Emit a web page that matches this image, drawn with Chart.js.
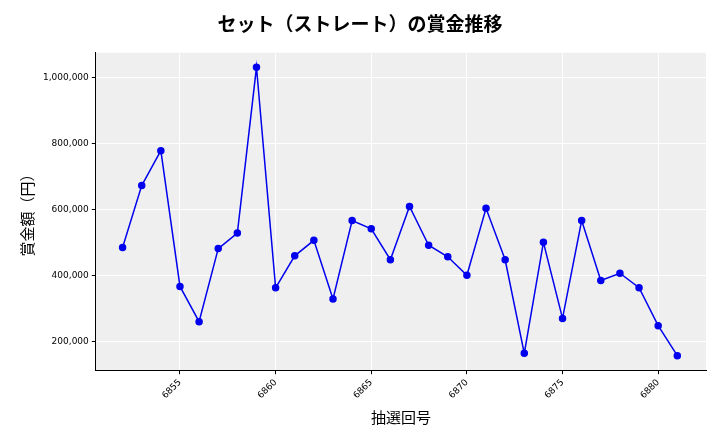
<!DOCTYPE html>
<html><head><meta charset="utf-8">
<script src="https://cdn.jsdelivr.net/npm/chart.js@4"></script>
<style>body{margin:0;background:#fff}#wrap{width:720px;height:432px}</style>
</head><body><div id="wrap"><canvas id="c"></canvas></div>
<script>
const draws = [6852,6853,6854,6855,6856,6857,6858,6859,6860,6861,6862,6863,6864,6865,6866,6867,6868,6869,6870,6871,6872,6873,6874,6875,6876,6877,6878,6879,6880,6881];
const prizes = [484000,672000,778000,366000,259000,481000,528000,1031000,362000,459000,506000,328000,566000,541000,447000,609000,491000,456000,400000,603000,447000,163000,500000,269000,566000,384000,406000,362000,247000,156000];
const yTicks = [200000,400000,600000,800000,1000000];
const xTicks = [6855,6860,6865,6870,6875,6880];

const bg = {
  id: 'bg',
  beforeDraw(chart) {
    const a = chart.chartArea, ctx = chart.ctx;
    ctx.save(); ctx.fillStyle = '#efefef';
    ctx.fillRect(a.left, a.top, a.width, a.height); ctx.restore();
  }
};
const font = 'DejaVu Sans, Noto Sans CJK JP';
new Chart(document.getElementById('c'), {
  type: 'line',
  data: { datasets: [{
    data: draws.map((d, i) => ({ x: d, y: prizes[i] })),
    borderColor: '#0000ee', backgroundColor: '#0000ee',
    borderWidth: 1.5, pointRadius: 3, tension: 0
  }]},
  options: {
    responsive: true, maintainAspectRatio: false, animation: false,
    layout: { padding: { left: 14, right: 14, top: 4, bottom: 2 } },
    plugins: {
      legend: { display: false }, tooltip: { enabled: false },
      title: { display: true, text: 'セット（ストレート）の賞金推移', color: '#000',
        font: { family: 'Noto Sans CJK JP', size: 19, weight: 'bold' }, padding: { top: 8, bottom: 18 } }
    },
    scales: {
      x: { type: 'linear', min: 6850.6, max: 6882.5,
        afterBuildTicks: ax => { ax.ticks = xTicks.map(v => ({ value: v })); },
        grid: { color: '#fff', drawTicks: true, tickColor: '#000', tickLength: 4 },
        border: { color: '#000' },
        ticks: { maxRotation: 45, minRotation: 45, color: '#000', font: { family: font, size: 9 }, callback: v => String(v) },
        title: { display: true, text: '抽選回号', color: '#000', font: { family: 'Noto Sans CJK JP', size: 15 } }
      },
      y: { min: 112000, max: 1075000,
        afterBuildTicks: ax => { ax.ticks = yTicks.map(v => ({ value: v })); },
        grid: { color: '#fff', tickColor: '#000', tickLength: 4 },
        border: { color: '#000' },
        ticks: { color: '#000', font: { family: font, size: 9 }, callback: v => v.toLocaleString('en-US') },
        title: { display: true, text: '賞金額（円）', color: '#000', font: { family: 'Noto Sans CJK JP', size: 15 } }
      }
    }
  },
  plugins: [bg]
});
</script></body></html>
